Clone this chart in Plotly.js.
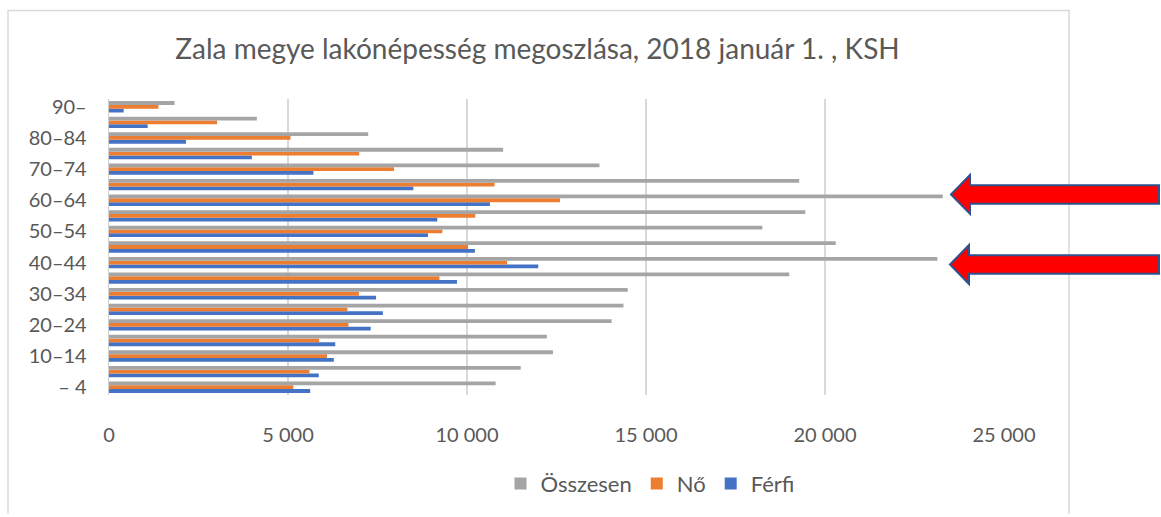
<!DOCTYPE html>
<html>
<head>
<meta charset="utf-8">
<script src="https://cdn.plot.ly/plotly-3.0.1.min.js"></script>
<style>html,body{margin:0;padding:0;background:#fff;}#chart{width:1161px;height:517px;}</style>
</head>
<body>
<div id="chart"></div>
<script>
// Age groups (bottom to top)
const ageGroups = ["– 4","5–9","10–14","15–19","20–24","25–29","30–34","35–39","40–44","45–49","50–54","55–59","60–64","65–69","70–74","75–79","80–84","85–89","90–"];
const tickLabels = ["– 4","10–14","20–24","30–34","40–44","50–54","60–64","70–74","80–84","90–"];
const osszesen = [10800,11500,12400,12230,14040,14370,14490,19000,23140,20300,18250,19450,23290,19280,13700,11010,7240,4130,1830];
const no = [5150,5600,6090,5870,6690,6660,6980,9230,11120,10030,9310,10230,12600,10770,7960,6990,5070,3020,1380];
const ferfi = [5620,5860,6280,6320,7310,7650,7460,9720,11990,10220,8910,9170,10640,8500,5710,3990,2150,1080,410];
const seriesNames = ["Összesen","Nő","Férfi"];

const W = 1161, H = 517;
const M = {l:109, r:157, t:99, b:114};
const pw = W - M.l - M.r, ph = H - M.t - M.b;
const px = x => (x - M.l) / pw;
const py = y => (H - M.b - y) / ph;

function arrowPath(tipX, tipY) {
  const headBack = tipX + 19, endX = 1159;
  const pts = [
    [tipX, tipY], [headBack, tipY - 20], [headBack, tipY - 9.5], [endX, tipY - 9.5],
    [endX, tipY + 9.5], [headBack, tipY + 9.5], [headBack, tipY + 20]
  ];
  return 'M ' + pts.map(p => px(p[0]) + ',' + py(p[1])).join(' L ') + ' Z';
}

const font = "Lato, 'Open Sans', sans-serif";
const textColor = '#595959';

const traces = [
  {name: seriesNames[2], y: ageGroups, x: ferfi, type: 'bar', orientation: 'h', marker: {color: '#4472c4'}},
  {name: seriesNames[1], y: ageGroups, x: no, type: 'bar', orientation: 'h', marker: {color: '#ed7d31'}},
  {name: seriesNames[0], y: ageGroups, x: osszesen, type: 'bar', orientation: 'h', marker: {color: '#a5a5a5'}}
];

const layout = {
  width: W, height: H,
  margin: M,
  paper_bgcolor: '#fff', plot_bgcolor: '#fff',
  font: {family: font, color: textColor, size: 20},
  separators: ', ',
  barmode: 'group', bargap: 0.27, bargroupgap: 0,
  showlegend: true,
  title: {
    text: 'Zala megye lakónépesség megoszlása, 2018 január 1. , KSH',
    font: {family: font, size: 28, color: textColor},
    xref: 'paper', x: px(537.5), xanchor: 'center',
    yref: 'container', y: 1 - 49/H, yanchor: 'middle'
  },
  xaxis: {
    range: [0, 25000], dtick: 5000, tick0: 0,
    tickformat: ',d',
    showgrid: true, gridcolor: '#d9d9d9', gridwidth: 1.3,
    zeroline: false, showline: false, ticks: '',
    ticklabelstandoff: 26,
    tickfont: {size: 20, color: textColor},
    fixedrange: true
  },
  yaxis: {
    type: 'category',
    categoryorder: 'array', categoryarray: ageGroups,
    tickmode: 'array', tickvals: tickLabels, ticktext: tickLabels,
    range: [-0.5, ageGroups.length - 0.5],
    showgrid: false, zeroline: false,
    showline: true, linecolor: '#d0d0d0', linewidth: 1.3,
    ticks: '', ticklabelstandoff: 17,
    tickfont: {size: 20, color: textColor},
    fixedrange: true
  },
  legend: {
    orientation: 'h', traceorder: 'reversed',
    x: px(650), xanchor: 'center',
    y: py(494), yanchor: 'middle',
    font: {size: 22, color: textColor},
    itemwidth: 30,
    bgcolor: 'rgba(0,0,0,0)'
  },
  shapes: [
    {type: 'path', xref: 'paper', yref: 'paper',
     path: 'M ' + px(8) + ',' + py(525) + ' L ' + px(8) + ',' + py(8) + ' L ' + px(1069) + ',' + py(8) + ' L ' + px(1069) + ',' + py(525),
     line: {color: '#d9d9d9', width: 1.5}},
    {type: 'path', xref: 'paper', yref: 'paper', path: arrowPath(951, 197),
     fillcolor: '#ff0000', line: {color: '#2f528f', width: 2}},
    {type: 'path', xref: 'paper', yref: 'paper', path: arrowPath(950, 269),
     fillcolor: '#ff0000', line: {color: '#2f528f', width: 2}}
  ]
};

Plotly.newPlot('chart', traces, layout, {displayModeBar: false, staticPlot: true});
</script>
</body>
</html>
